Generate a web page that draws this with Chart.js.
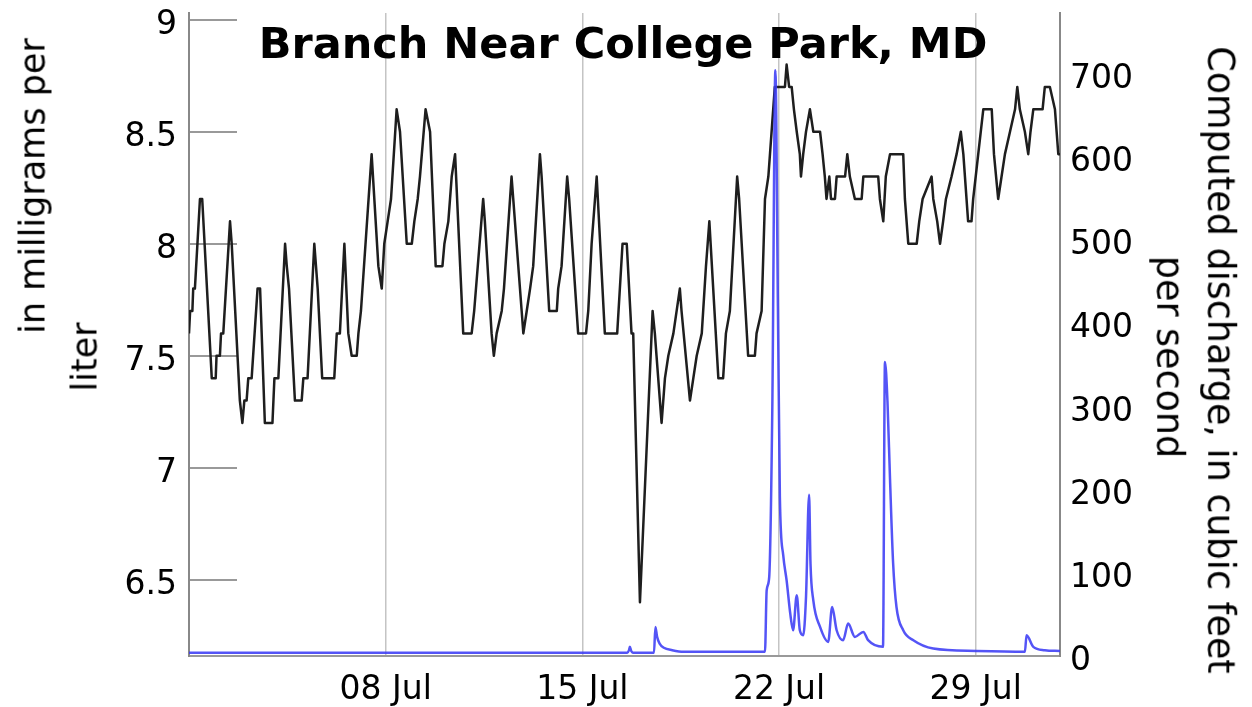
<!DOCTYPE html>
<html><head><meta charset="utf-8">
<script src="https://cdn.jsdelivr.net/npm/chart.js@4/dist/chart.umd.min.js"></script>
<style>
html,body{margin:0;padding:0;background:#fff;}
#wrap{position:relative;width:1252px;height:707px;overflow:hidden;background:#fff;}
canvas{position:absolute;left:0;top:0;}
.t{position:absolute;white-space:nowrap;font-family:"DejaVu Sans",sans-serif;color:#000;line-height:1;}
</style></head><body>
<div id="wrap">
<canvas id="c" width="1252" height="707"></canvas>
<div class="t" style="left:623px;top:43px;font-weight:bold;font-size:43px;transform:translate(-50%,-50%)">Branch Near College Park, MD</div>
<div class="t" style="left:33px;top:186px;font-size:35px;transform:translate(-50%,-50%) rotate(-90deg)">in milligrams per</div>
<div class="t" style="left:85px;top:357px;font-size:35px;transform:translate(-50%,-50%) rotate(-90deg)">liter</div>
<div class="t" style="left:1220px;top:360px;font-size:36.5px;transform:translate(-50%,-50%) rotate(90deg)">Computed discharge, in cubic feet</div>
<div class="t" style="left:1169px;top:357px;font-size:36.5px;transform:translate(-50%,-50%) rotate(90deg)">per second</div>
</div>
<script>
// Days since 01 Jul 00:00
const xTickDays = [7, 14, 21, 28];
const xTickLabels = ["08 Jul", "15 Jul", "22 Jul", "29 Jul"];
const leftTicks = [6.5, 7, 7.5, 8, 8.5, 9];
const rightTicks = [0, 100, 200, 300, 400, 500, 600, 700];

// Dissolved oxygen, mg/L
const doDays = [0.00,0.04,0.12,0.15,0.21,0.39,0.47,0.81,0.95,0.98,1.10,1.14,1.22,1.46,1.52,1.81,1.90,1.97,2.05,2.11,2.23,2.44,2.53,2.70,2.97,3.04,3.18,3.42,3.48,3.56,3.77,4.01,4.07,4.22,4.46,4.58,4.74,5.17,5.26,5.37,5.53,5.67,5.79,5.97,6.03,6.12,6.50,6.74,6.86,6.95,7.07,7.19,7.39,7.51,7.75,7.93,8.02,8.14,8.22,8.42,8.58,8.78,9.02,9.09,9.23,9.35,9.47,9.76,10.06,10.15,10.47,10.53,10.77,10.85,10.95,11.13,11.21,11.48,11.54,11.84,11.90,12.02,12.14,12.25,12.49,12.55,12.82,13.09,13.14,13.26,13.46,13.53,13.85,14.13,14.21,14.33,14.51,14.80,15.24,15.43,15.58,15.75,15.81,16.05,16.50,16.58,16.64,16.82,16.94,17.06,17.24,17.47,17.53,17.83,17.95,18.07,18.25,18.40,18.52,18.84,19.01,19.11,19.25,19.51,19.58,19.90,20.14,20.20,20.38,20.50,20.62,20.85,21.21,21.27,21.36,21.45,21.53,21.63,21.74,21.78,21.86,21.96,22.10,22.22,22.46,22.55,22.63,22.69,22.79,22.85,22.99,23.05,23.35,23.43,23.52,23.70,23.94,24.00,24.53,24.59,24.71,24.80,24.95,25.42,25.48,25.60,25.90,25.99,26.11,26.43,26.49,26.63,26.73,26.84,26.94,27.14,27.32,27.47,27.56,27.73,27.85,27.91,28.09,28.27,28.57,28.65,28.80,28.92,29.04,29.22,29.40,29.48,29.57,29.75,29.87,29.95,30.05,30.38,30.46,30.64,30.82,30.94,31.00];
const doValues = [7.6,7.7,7.7,7.8,7.8,8.2,8.2,7.4,7.4,7.5,7.5,7.6,7.6,8.1,8.0,7.3,7.2,7.3,7.3,7.4,7.4,7.8,7.8,7.2,7.2,7.4,7.4,8.0,7.9,7.8,7.3,7.3,7.4,7.4,8.0,7.8,7.4,7.4,7.6,7.6,8.0,7.6,7.5,7.5,7.6,7.7,8.4,7.9,7.8,8.0,8.1,8.2,8.6,8.5,8.0,8.0,8.1,8.2,8.3,8.6,8.5,7.9,7.9,8.0,8.1,8.3,8.4,7.6,7.6,7.7,8.2,8.1,7.6,7.5,7.6,7.7,7.8,8.3,8.2,7.7,7.6,7.7,7.8,7.9,8.4,8.3,7.7,7.7,7.8,7.9,8.3,8.2,7.6,7.6,7.7,8.0,8.3,7.6,7.6,8.0,8.0,7.6,7.6,6.4,7.7,7.6,7.5,7.2,7.4,7.5,7.6,7.8,7.7,7.3,7.4,7.5,7.6,7.9,8.1,7.4,7.4,7.6,7.7,8.3,8.2,7.5,7.5,7.6,7.7,8.2,8.3,8.7,8.7,8.8,8.7,8.7,8.6,8.5,8.4,8.3,8.4,8.5,8.6,8.5,8.5,8.4,8.3,8.2,8.3,8.2,8.2,8.3,8.3,8.4,8.3,8.2,8.2,8.3,8.3,8.2,8.1,8.3,8.4,8.4,8.2,8.0,8.0,8.1,8.2,8.3,8.2,8.1,8.0,8.1,8.2,8.3,8.4,8.5,8.4,8.1,8.1,8.2,8.4,8.6,8.6,8.4,8.2,8.3,8.4,8.5,8.6,8.7,8.6,8.5,8.4,8.5,8.6,8.6,8.7,8.7,8.6,8.4,8.4];

// Discharge, cubic feet per second
const qDays = [0,15.60,15.66,15.69,15.74,15.80,16.55,16.60,16.66,16.75,16.90,17.20,17.60,20.50,20.56,20.65,20.76,20.87,20.96,21.03,21.15,21.27,21.40,21.50,21.63,21.74,21.86,21.96,22.07,22.12,22.22,22.46,22.75,22.89,23.05,23.28,23.46,23.70,24.00,24.17,24.70,24.77,24.86,24.95,25.06,25.18,25.42,25.78,26.49,28.03,29.75,29.81,30.05,30.46,31.00];
const qValues = [3,3,6,10,5,3,3,34,22,14,9,6,4,4,78,94,295,704,420,190,120,90,50,30,72,30,24,70,193,110,66,34,16,58,30,18,38,22,28,18,10,353,305,212,111,58,30,18,8,5,4,24,10,6,5];

const FONT = '"DejaVu Sans", sans-serif';
const doData = doDays.map((d, i) => ({x: d, y: doValues[i]}));
const qData = qDays.map((d, i) => ({x: d, y: qValues[i]}));

function fixBox(w, h) {
  return s => {
    if (w !== null) s.width = w;
    if (h !== null) s.height = h;
    s.paddingTop = 0; s.paddingBottom = 0; s.paddingLeft = 0; s.paddingRight = 0;
  };
}

new Chart(document.getElementById('c').getContext('2d'), {
  type: 'line',
  data: {
    datasets: [
      {label: 'Dissolved oxygen', data: doData, yAxisID: 'y', borderColor: '#1e1e1e', borderWidth: 2.5, borderJoinStyle: 'round', pointRadius: 0, tension: 0, order: 1},
      {label: 'Discharge', data: qData, yAxisID: 'y1', borderColor: 'rgba(60,60,245,0.88)', borderWidth: 2.5, borderJoinStyle: 'round', pointRadius: 0, cubicInterpolationMode: 'monotone', order: 0}
    ]
  },
  options: {
    responsive: false, animation: false, devicePixelRatio: 1,
    layout: {padding: {top: 13, left: 0, right: 0, bottom: 0}},
    plugins: {legend: {display: false}, tooltip: {enabled: false}, title: {display: false}},
    scales: {
      x: {
        type: 'linear', min: 0, max: 31,
        afterBuildTicks: s => { s.ticks = xTickDays.map(v => ({value: v})); },
        afterFit: fixBox(null, 51),
        ticks: {callback: v => xTickLabels[xTickDays.indexOf(v)], font: {family: FONT, size: 33}, color: '#000', padding: 15, maxRotation: 0, autoSkip: false},
        grid: {color: '#c4c4c4', lineWidth: 1.5, drawTicks: false},
        border: {color: '#999', width: 2}
      },
      y: {
        position: 'left', min: 6.16, max: 9.03,
        afterBuildTicks: s => { s.ticks = leftTicks.map(v => ({value: v})); },
        afterFit: fixBox(189, null),
        ticks: {callback: v => String(v), font: {family: FONT, size: 33}, color: '#000', padding: 60, labelOffset: 6},
        grid: {drawOnChartArea: false, drawTicks: true, tickLength: -48, color: '#999', lineWidth: 2},
        border: {color: '#888', width: 2}
      },
      y1: {
        position: 'right', min: -1, max: 773,
        afterBuildTicks: s => { s.ticks = rightTicks.map(v => ({value: v})); },
        afterFit: fixBox(192, null),
        ticks: {callback: v => String(v), font: {family: FONT, size: 33}, color: '#000', padding: 10, labelOffset: 6},
        grid: {display: false, drawTicks: false, drawOnChartArea: false},
        border: {color: '#888', width: 2}
      }
    }
  }
});
</script>
</body></html>
